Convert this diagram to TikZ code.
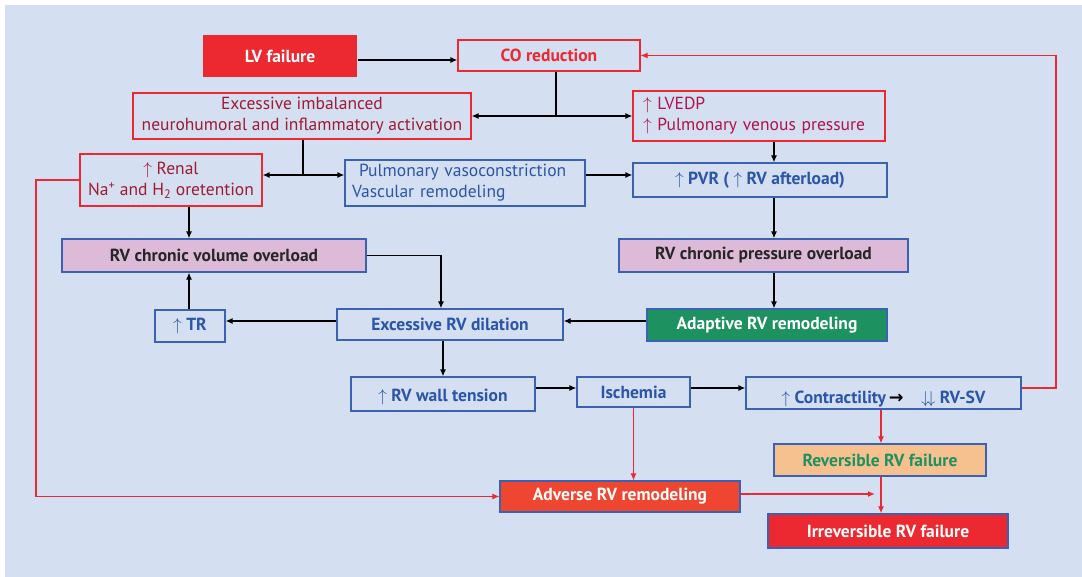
\documentclass[tikz,border=0pt]{standalone}
\usepackage{fontspec}
\setmainfont{PT Sans}
\newfontfamily\arrowfont{DejaVu Sans}
\usetikzlibrary{arrows.meta}
\definecolor{bgblue}{HTML}{D4DFF1}
\definecolor{boxred}{HTML}{EC2830}
\definecolor{darkred}{HTML}{9E1B32}
\definecolor{crimson}{HTML}{B0124A}
\definecolor{boxblue}{HTML}{3A62B0}
\definecolor{txtblue}{HTML}{2B55A8}
\definecolor{pinkfill}{HTML}{DDBBD8}
\definecolor{greenfill}{HTML}{1E9160}
\definecolor{orangefill}{HTML}{F6C18F}
\definecolor{advfill}{HTML}{EE4630}
\newcommand{\boxfont}{\fontsize{17.5}{21}\selectfont}
\tikzstyle{box}=[draw, line width=1.2pt, inner sep=0pt, font=\boxfont]
\tikzstyle{redbox}=[box, draw=boxred, text=darkred]
\tikzstyle{bluebox}=[box, draw=boxblue, text=txtblue, font=\boxfont\bfseries]
\tikzstyle{pinkbox}=[box, draw=boxblue, fill=pinkfill, text=black!85, font=\boxfont\bfseries]
\tikzstyle{solidbox}=[box, draw=boxblue, text=white, font=\boxfont\bfseries]
\tikzstyle{arr}=[draw, line width=1.3pt, -{Latex[length=7pt,width=6pt]}]
\tikzstyle{thickarr}=[arr, line width=2.6pt]
\tikzstyle{redarr}=[arr, draw=boxred, line width=1.1pt]
\tikzstyle{thickredarr}=[arr, draw=boxred, line width=2.4pt]
\newcommand{\up}{$\uparrow$}

\begin{document}
\begin{tikzpicture}[x=1pt, y=-1pt]
    \useasboundingbox (0,0) rectangle (1082,577);
    \fill[bgblue] (5,5) rectangle (1082,577);

    % top part
    \node[solidbox, draw=none, fill=boxred, minimum width=154, minimum height=42] (lvf) at (280,56) {LV failure};
    \node[redbox, text=boxred, font=\boxfont\bfseries, minimum width=182, minimum height=31] (co) at (549,55.5) {CO reduction};
    \node[redbox, minimum width=338, minimum height=46, align=center] (neuro) at (302,116) {Excessive imbalanced\\neurohumoral and inflammatory activation};
    \node[redbox, text=crimson, minimum width=252, minimum height=50, align=left, text width=232] (lvedp) at (759,116) {\up\ LVEDP\\\up\ Pulmonary venous pressure};
    \node[redbox, minimum width=182, minimum height=52, align=center] (renal) at (171,180) {\up\ Renal\\Na\textsuperscript{+} and H\textsubscript{2} oretention};
    \node[box, draw=boxblue, text=txtblue, minimum width=240, minimum height=46, align=left, text width=226] (pvaso) at (465,183) {\hspace*{7pt}Pulmonary vasoconstriction\\Vascular remodeling};
    \node[bluebox, minimum width=254, minimum height=34] (pvr) at (760,180) {\up\ PVR ( \up\ RV afterload)};

    % middle part
    \node[pinkbox, minimum width=304, minimum height=33] (volov) at (214,255.5) {RV chronic volume overload};
    \node[pinkbox, minimum width=289, minimum height=33] (presov) at (763.5,255.5) {RV chronic pressure overload};
    \node[bluebox, minimum width=70, minimum height=32] (tr) at (190,326) {\up\ TR};
    \node[bluebox, minimum width=226, minimum height=31] (dil) at (450,324.5) {Excessive RV dilation};
    \node[solidbox, fill=greenfill, minimum width=240, minimum height=32] (adapt) at (767,325) {Adaptive RV remodeling};
    \node[bluebox, minimum width=184, minimum height=34, text height=16pt, text depth=0pt] (wall) at (443,394) {\up\ RV wall tension};
    \node[bluebox, minimum width=113, minimum height=30] (isch) at (633.5,392) {Ischemia};
    \node[bluebox, minimum width=275, minimum height=32, text height=20pt, text depth=0pt] (contr) at (883.5,393) {\up\ Contractility{\color{black}\arrowfont\bfseries\,→}\quad$\downarrow\!\downarrow$ RV-SV};

    % bottom part
    \node[box, draw=boxblue, fill=orangefill, text=greenfill, font=\boxfont\bfseries, minimum width=212, minimum height=32] (rev) at (880,460) {Reversible RV failure};
    \node[solidbox, fill=advfill, minimum width=240, minimum height=31] (adv) at (620,496.5) {Adverse RV remodeling};
    \node[solidbox, fill=boxred, minimum width=240, minimum height=34] (irr) at (888,531) {Irreversible RV failure};

    % helper coordinates
    \coordinate (j1) at (556,116);
    \coordinate (j2) at (303,175);
    \coordinate (cx) at (774,0);
    \coordinate (c1) at (189,0);
    \coordinate (c2) at (441,0);
    \coordinate (c3) at (1056,0);
    \coordinate (c4) at (881,0);
    \coordinate (c5) at (36,0);
    \coordinate (r) at (0,388);

    % black connectors
    \path[arr] (lvf.east |- 0,60) -- (co.west |- 0,60);
    \draw[line width=1.3pt] (co.south -| j1) -- (j1);
    \path[thickarr, {Latex[length=7pt,width=6pt]}-{Latex[length=7pt,width=6pt]}] (neuro.east) -- (lvedp.west);
    \draw[line width=1.3pt] (neuro.south -| j2) -- (j2);
    \path[arr] (j2) -- (j2 -| renal.east);
    \path[arr] (j2) -- (j2 -| pvaso.west);
    \path[arr] (pvaso.east |- j2) -- (pvr.west |- j2);
    \foreach \source/ \dest in {lvedp/pvr, pvr/presov, presov/adapt}
        \path[arr] (\source.south -| cx) -- (\dest.north -| cx);
    \path[arr] (renal.south -| c1) -- (volov.north -| c1);
    \path[arr] (tr.north -| c1) -- (volov.south -| c1);
    \path[arr] (volov.east) -| (dil.north -| c2);
    \path[thickarr] (dil.west |- 0,321) -- (tr.east |- 0,321);
    \path[thickarr] (adapt.west |- 0,321) -- (dil.east |- 0,321);
    \path[arr] (dil.south -| wall.north) -- (wall.north);
    \path[arr] (wall.east |- r) -- (isch.west |- r);
    \path[arr] (isch.east |- r) -- (contr.west |- r);

    % red connectors
    \path[redarr] (contr.east |- r) -- (r -| c3) |- (co.east);
    \path[redarr] (contr.south -| c4) -- (rev.north -| c4);
    \path[thickredarr] (rev.south -| c4) -- (irr.north -| c4);
    \path[thickredarr, shorten >=6pt] (adv.east |- 0,494) -- (c4 |- 0,494);
    \path[redarr] (isch.south) -- (adv.north -| isch.south);
    \path[redarr] (renal.west) -- (renal.west -| c5) |- (adv.west);
\end{tikzpicture}
\end{document}
